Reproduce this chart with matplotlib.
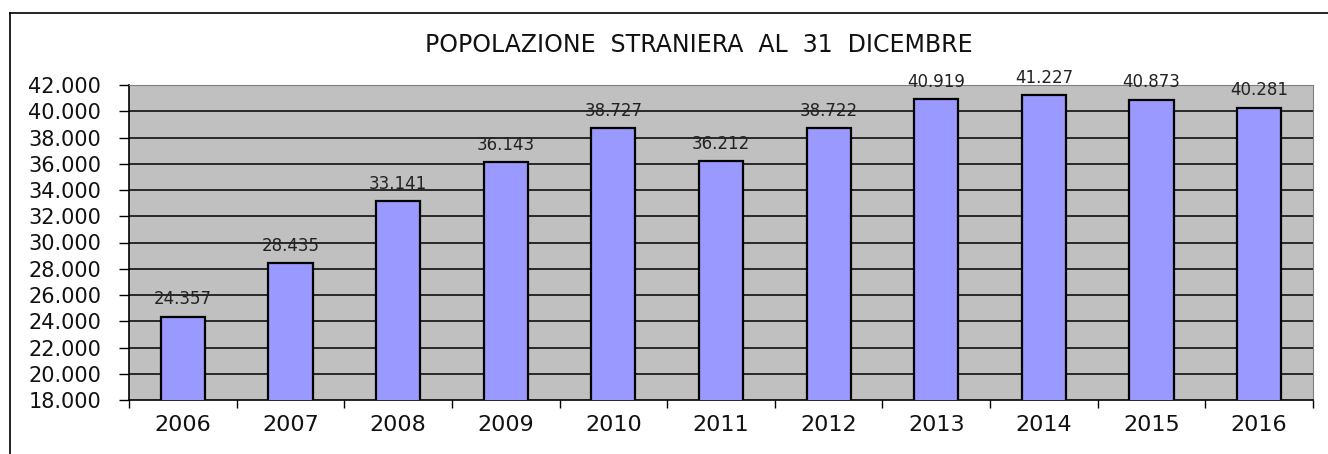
import matplotlib.pyplot as plt
from matplotlib.lines import Line2D
from matplotlib.ticker import FixedLocator, FuncFormatter

plt.rcParams['font.family'] = ['DejaVu Sans']

years = ["2006", "2007", "2008", "2009", "2010", "2011",
         "2012", "2013", "2014", "2015", "2016"]
population = [24357, 28435, 33141, 36143, 38727, 36212,
              38722, 40919, 41227, 40873, 40281]
title = "POPOLAZIONE  STRANIERA  AL  31  DICEMBRE"


def it_fmt(v, pos=None):
    # italian thousands separator
    return f"{int(v):,}".replace(",", ".")


W, H = 1328, 454
fig = plt.figure(figsize=(W / 100, H / 100), dpi=100)
ax = fig.add_axes([129 / W, 1 - 400 / H, (1313 - 129) / W, (400 - 85) / H])
ax.set_facecolor("#C0C0C0")

x = list(range(len(years)))
ax.bar(x, population, width=0.41, bottom=0, color="#9999FF",
       edgecolor="black", linewidth=1.6, zorder=3)

for xi, v in zip(x, population):
    ax.annotate(it_fmt(v), (xi, v), xytext=(0, 6), textcoords="offset points",
                ha="center", va="bottom", fontsize=12, color="#222222",
                annotation_clip=False, zorder=4)

ax.set_xlim(-0.5, len(years) - 0.5)
ax.set_ylim(18000, 42000)
ax.yaxis.set_major_locator(FixedLocator(range(18000, 42001, 2000)))
ax.yaxis.set_major_formatter(FuncFormatter(it_fmt))
ax.set_xticks(x)
ax.set_xticklabels(years)
ax.set_xticks([i - 0.5 for i in range(len(years) + 1)], minor=True)

ax.tick_params(axis="x", which="major", length=0, pad=11, labelsize=16, labelcolor="#111111")
ax.tick_params(axis="x", which="minor", length=6, direction="out", width=1, color="black")
ax.tick_params(axis="y", length=7, direction="out", width=1, pad=13, labelsize=15, labelcolor="#111111")

for g in range(20000, 42000, 2000):
    ax.axhline(g, color="black", linewidth=1.1, zorder=1)

ax.spines["left"].set_color("black")
ax.spines["bottom"].set_color("black")
ax.spines["left"].set_linewidth(1.2)
ax.spines["bottom"].set_linewidth(1.2)
ax.spines["top"].set_color("#808080")
ax.spines["right"].set_color("#808080")

fig.text(699 / W, 1 - 45 / H, title, ha="center", va="center", fontsize=17, color="#111111")

# outer chart frame (only top and left visible)
fig.add_artist(Line2D([10 / W, 1], [1 - 13 / H, 1 - 13 / H], color="black", linewidth=1.2))
fig.add_artist(Line2D([10 / W, 10 / W], [0, 1 - 13 / H], color="black", linewidth=1.2))

fig.savefig("out.png", dpi=100, facecolor="white")
